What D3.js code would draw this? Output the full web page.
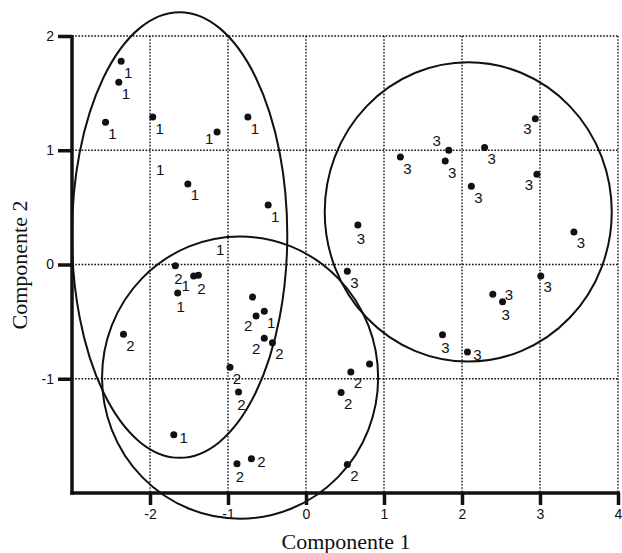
<!DOCTYPE html>
<html>
<head>
<meta charset="utf-8">
<script src="https://cdn.jsdelivr.net/npm/d3@7"></script>
<style>
  body { margin: 0; background: #fff; }
  svg { display: block; }
</style>
</head>
<body>
<div id="chart"></div>
<script>
// tick values
var xTicks = [-2, -1, 0, 1, 2, 3, 4];
var yTicks = [-1, 0, 1, 2];

// group 1
var g1x = [-2.37, -2.40, -2.57, -1.965, -1.14, -0.745, -1.515, -0.485, -1.44, -1.645, -0.535, -1.695];
var g1y = [1.78, 1.595, 1.245, 1.29, 1.16, 1.29, 0.705, 0.52, -0.10, -0.25, -0.41, -1.49];
var g1pos = ["br", "br", "br", "br", "l", "br", "br", "br", "bl", "b", "br", "r"];

// labels "1" that stand without a dot
var loneX = [-1.87, -1.10];
var loneY = [0.83, 0.127];

// group 2
var g2x = [-1.675, -1.38, -2.34, -0.685, -0.64, -0.535, -0.43, -0.975, -0.865, -0.70, -0.885, 0.575, 0.815, 0.45, 0.53];
var g2y = [-0.01, -0.095, -0.61, -0.285, -0.45, -0.645, -0.685, -0.90, -1.115, -1.70, -1.745, -0.94, -0.87, -1.12, -1.75];
var g2pos = ["b", "b", "br", "", "bl", "bl", "br", "br", "b", "r", "b", "br", "", "br", "br"];

// group 3
var g3x = [2.94, 1.83, 2.29, 1.21, 1.785, 2.96, 2.12, 0.665, 3.435, 0.53, 3.01, 2.395, 2.52, 1.75, 2.07];
var g3y = [1.275, 1.00, 1.025, 0.94, 0.905, 0.79, 0.685, 0.345, 0.285, -0.06, -0.10, -0.26, -0.325, -0.615, -0.765];
var g3pos = ["bl", "al", "br", "br", "br", "bl", "br", "b", "br", "br", "br", "r2", "b", "b", "r"];

// cluster ellipses (centre and radii in data units)
var ellCx = [-1.62, -0.845, 2.08];
var ellCy = [0.258, -0.99, 0.46];
var ellRx = [1.38, 1.77, 1.84];
var ellRy = [1.95, 1.235, 1.31];

var width = 622, height = 553;

var svg = d3.select("#chart")
  .append("svg")
    .attr("width", width)
    .attr("height", height);

var x = d3.scaleLinear().domain([-3, 4]).range([72, 618]);
var y = d3.scaleLinear().domain([-2, 2]).range([493, 36]);

// dotted grid
svg.append("g")
  .selectAll("line")
  .data(xTicks)
  .enter()
  .append("line")
    .attr("x1", function(d) { return x(d); })
    .attr("x2", function(d) { return x(d); })
    .attr("y1", y(2))
    .attr("y2", y(-2))
    .attr("stroke", "#111")
    .attr("stroke-width", 1.4)
    .attr("stroke-dasharray", "1.6,1.6");

svg.append("g")
  .selectAll("line")
  .data(yTicks)
  .enter()
  .append("line")
    .attr("x1", x(-3))
    .attr("x2", x(4))
    .attr("y1", function(d) { return y(d); })
    .attr("y2", function(d) { return y(d); })
    .attr("stroke", "#111")
    .attr("stroke-width", 1.4)
    .attr("stroke-dasharray", "1.6,1.6");

// axes
var xAxis = svg.append("g")
  .attr("transform", "translate(0," + y(-2) + ")")
  .call(d3.axisBottom(x).tickValues(xTicks).tickSize(12).tickSizeOuter(0).tickPadding(4)
    .tickFormat(function(d) { return String(d); }));

var yAxis = svg.append("g")
  .attr("transform", "translate(" + x(-3) + ",0)")
  .call(d3.axisLeft(y).tickValues(yTicks).tickSize(14).tickSizeOuter(0).tickPadding(4)
    .tickFormat(function(d) { return String(d); }));

[xAxis, yAxis].forEach(function(a) {
  a.select(".domain").attr("stroke", "#111").attr("stroke-width", 3.5);
  a.selectAll(".tick line").attr("stroke", "#111").attr("stroke-width", 3.5);
  a.selectAll(".tick text")
    .attr("fill", "#111")
    .style("font-family", "'Liberation Sans', Arial, sans-serif")
    .style("font-size", "14px");
});
// extend axis lines so the corner closes
xAxis.select(".domain").attr("d", "M" + (x(-3) - 1.75) + ",0H" + (x(4) + 2));
yAxis.select(".domain").attr("d", "M0," + (y(2) - 1) + "V" + (y(-2) + 1.75));

// ellipses
var ell = d3.range(ellCx.length);
svg.append("g")
  .selectAll("ellipse")
  .data(ell)
  .enter()
  .append("ellipse")
    .attr("cx", function(i) { return x(ellCx[i]); })
    .attr("cy", function(i) { return y(ellCy[i]); })
    .attr("rx", function(i) { return x(ellCx[i] + ellRx[i]) - x(ellCx[i]); })
    .attr("ry", function(i) { return y(ellCy[i]) - y(ellCy[i] + ellRy[i]); })
    .attr("fill", "none")
    .attr("stroke", "#111")
    .attr("stroke-width", 2);

// label offsets from the dot (pixels, text centre)
var offs = {
  br: [7, 11], b: [3, 13], bl: [-8, 10], l: [-8, 7],
  r: [10, 3], r2: [16, 0], al: [-12, -10]
};

function drawGroup(xs, ys, pos, name) {
  var pts = xs.map(function(v, i) { return {x: v, y: ys[i], p: pos[i]}; });
  var g = svg.append("g");
  g.selectAll("circle")
    .data(pts)
    .enter()
    .append("circle")
      .attr("cx", function(d) { return x(d.x); })
      .attr("cy", function(d) { return y(d.y); })
      .attr("r", 3.5)
      .attr("fill", "#111");
  g.selectAll("text")
    .data(pts.filter(function(d) { return d.p; }))
    .enter()
    .append("text")
      .attr("x", function(d) { return x(d.x) + offs[d.p][0]; })
      .attr("y", function(d) { return y(d.y) + offs[d.p][1] + 5.5; })
      .attr("text-anchor", "middle")
      .attr("fill", "#111")
      .style("font-family", "'Liberation Sans', Arial, sans-serif")
      .style("font-size", "15px")
      .text(name);
}

drawGroup(g1x, g1y, g1pos, "1");
drawGroup(g2x, g2y, g2pos, "2");
drawGroup(g3x, g3y, g3pos, "3");

svg.append("g")
  .selectAll("text")
  .data(loneX)
  .enter()
  .append("text")
    .attr("x", function(d) { return x(d); })
    .attr("y", function(d, i) { return y(loneY[i]) + 5.5; })
    .attr("text-anchor", "middle")
    .attr("fill", "#111")
    .style("font-family", "'Liberation Sans', Arial, sans-serif")
    .style("font-size", "15px")
    .text("1");

// axis titles
svg.append("text")
  .attr("x", 346)
  .attr("y", 549)
  .attr("text-anchor", "middle")
  .attr("fill", "#111")
  .style("font-family", "'Liberation Serif', 'Times New Roman', serif")
  .style("font-size", "22px")
  .text("Componente 1");

svg.append("text")
  .attr("transform", "translate(27,265) rotate(-90)")
  .attr("text-anchor", "middle")
  .attr("fill", "#111")
  .style("font-family", "'Liberation Serif', 'Times New Roman', serif")
  .style("font-size", "22px")
  .text("Componente 2");
</script>
</body>
</html>
